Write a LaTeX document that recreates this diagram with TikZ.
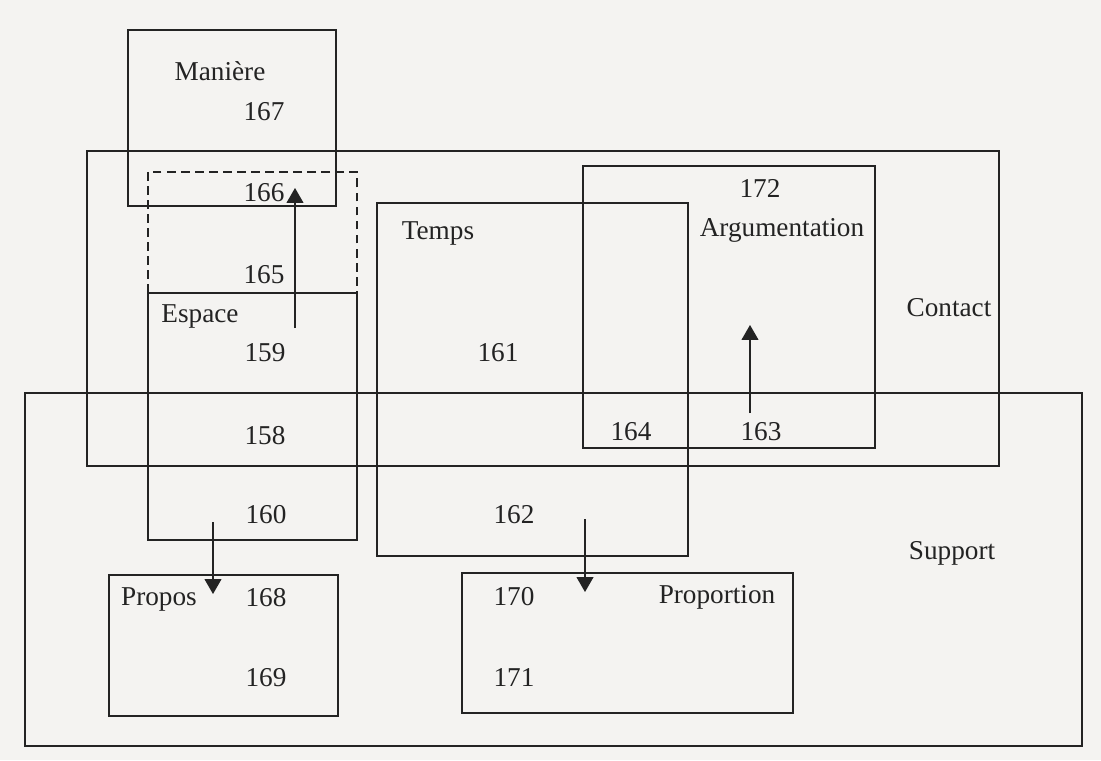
\documentclass[tikz,border=0pt]{standalone}
\usepackage{fontspec}
\setmainfont{Liberation Serif}
\usetikzlibrary{arrows.meta}
\definecolor{paper}{RGB}{244,243,241}
\definecolor{ink}{RGB}{35,35,35}
\begin{document}
\begin{tikzpicture}[x=0.02cm,y=-0.02cm,
  box/.style={draw=ink,line width=0.6pt},
  dbox/.style={draw=ink,line width=0.6pt,dash pattern=on 5pt off 3pt},
  lbl/.style={anchor=base,inner sep=0pt,text=ink,font=\fontsize{15.5}{18}\selectfont},
  arr/.style={draw=ink,line width=0.6pt,-{Triangle[length=0.3cm,width=0.34cm]}}]
\fill[paper] (0,0) rectangle (1101,760);
\useasboundingbox (0,0) rectangle (1101,760);
% boxes
\draw[box] (128,30) rectangle (336,206);   % Maniere
\draw[box] (87,151) rectangle (999,466);   % Contact
\draw[dbox] (148,172) rectangle (357,293); % dashed
\draw[box] (148,293) rectangle (357,540);  % Espace
\draw[box] (377,203) rectangle (688,556);  % Temps
\draw[box] (583,166) rectangle (875,448);  % Argumentation
\draw[box] (25,393) rectangle (1082,746);  % Support
\draw[box] (109,575) rectangle (338,716);  % Propos
\draw[box] (462,573) rectangle (793,713);  % Proportion
% labels
\node[lbl] (maniere) at (220,81) {Manière};
\node[lbl] (n167) at (264,121) {167};
\node[lbl] (n166) at (264,201) {166};
\node[lbl] (n165) at (264,283) {165};
\node[lbl] (espace) at (200,322) {Espace};
\node[lbl] (n159) at (265,361) {159};
\node[lbl] (n158) at (265,444) {158};
\node[lbl] (n160) at (266,523) {160};
\node[lbl] (temps) at (438,239) {Temps};
\node[lbl] (n161) at (498,361) {161};
\node[lbl] (n162) at (514,523) {162};
\node[lbl] (n172) at (760,197) {172};
\node[lbl] (argu) at (782,236) {Argumentation};
\node[lbl] (n164) at (631,440) {164};
\node[lbl] (n163) at (761,440) {163};
\node[lbl] (contact) at (949,316) {Contact};
\node[lbl] (support) at (952,559) {Support};
\node[lbl] (propos) at (159,605) {Propos};
\node[lbl] (n168) at (266,606) {168};
\node[lbl] (n169) at (266,686) {169};
\node[lbl] (n170) at (514,605) {170};
\node[lbl] (proportion) at (717,603) {Proportion};
\node[lbl] (n171) at (514,686) {171};
% arrow ends
\coordinate (a1s) at (295,328); \coordinate (a1e) at (295,188);
\coordinate (a2s) at (750,413); \coordinate (a2e) at (750,325);
\coordinate (a3s) at (213,522); \coordinate (a3e) at (213,594);
\coordinate (a4s) at (585,519); \coordinate (a4e) at (585,592);
\draw[arr] (a1s) -- (a1e);
\draw[arr] (a2s) -- (a2e);
\draw[arr] (a3s) -- (a3e);
\draw[arr] (a4s) -- (a4e);
\end{tikzpicture}
\end{document}
